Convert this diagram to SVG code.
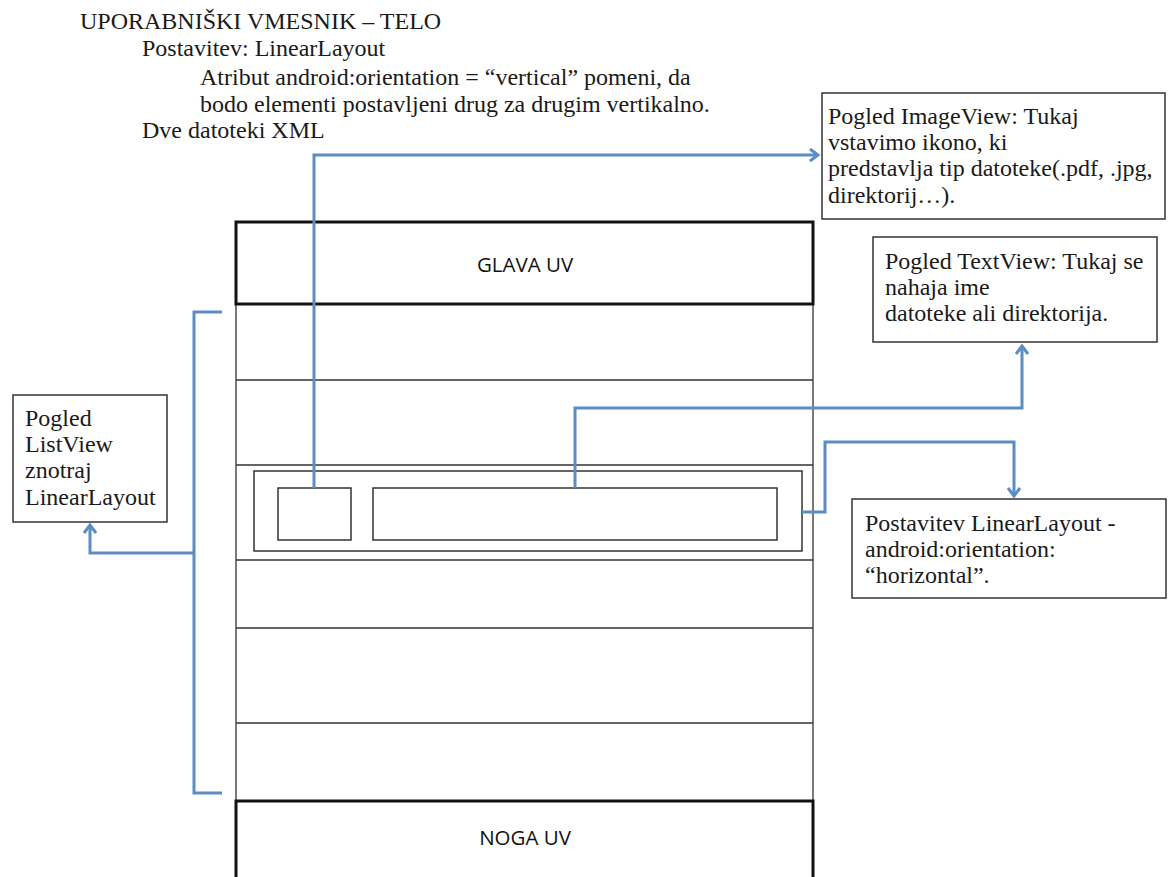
<svg xmlns="http://www.w3.org/2000/svg" width="1168" height="877" viewBox="0 0 1168 877">
<style>
.t{font-family:"Liberation Serif","Times New Roman",serif;font-size:24px;fill:#1a1a1a}
.h{font-family:"Open Sans","Liberation Sans",sans-serif;font-size:20.5px;fill:#111;text-anchor:middle}
.box{fill:#fff;stroke:#333;stroke-width:1.5}
.thick{fill:#fff;stroke:#111;stroke-width:3}
.thin{stroke:#333;stroke-width:1.3;fill:none}
.c{fill:none;stroke:#5b8cc4;stroke-width:3}
</style>
<defs>
<marker id="ar" markerUnits="userSpaceOnUse" markerWidth="16" markerHeight="16" refX="10" refY="7" orient="auto">
<path d="M2,1 L10,7 L2,13" fill="none" stroke="#5b8cc4" stroke-width="3"/>
</marker>
</defs>
<rect width="1168" height="877" fill="#fff"/>

<g id="header">
<text class="t" x="80" y="29">UPORABNIŠKI VMESNIK – TELO</text>
<text class="t" x="142" y="56">Postavitev: LinearLayout</text>
<text class="t" x="200" y="85">Atribut android:orientation = “vertical” pomeni, da</text>
<text class="t" x="200" y="112">bodo elementi postavljeni drug za drugim vertikalno.</text>
<text class="t" x="142" y="138">Dve datoteki XML</text>
</g>

<g id="list-column">
<path class="thin" d="M236,304 V801 M813,304 V801 M236,380 H813 M236,465 H813 M236,560 H813 M236,628 H813 M236,723 H813"/>
</g>
<g id="glava">
<rect class="thick" x="236" y="222" width="577" height="82"/>
<text class="h" x="525" y="272">GLAVA UV</text>
</g>
<g id="noga">
<rect class="thick" x="236" y="801" width="577" height="90"/>
<text class="h" x="525" y="845">NOGA UV</text>
</g>
<g id="row-layout">
<rect class="box" x="254" y="471" width="548" height="80"/>
</g>
<g id="row-image">
<rect class="box" x="278" y="488" width="73" height="52"/>
</g>
<g id="row-text">
<rect class="box" x="373" y="488" width="404" height="52"/>
</g>

<g id="imageview-note">
<rect class="box" x="822" y="93" width="343" height="126"/>
<text class="t" x="828" y="124">Pogled ImageView: Tukaj</text>
<text class="t" x="828" y="150">vstavimo ikono, ki</text>
<text class="t" x="828" y="176">predstavlja tip datoteke(.pdf, .jpg,</text>
<text class="t" x="828" y="203">direktorij…).</text>
</g>
<g id="textview-note">
<rect class="box" x="873" y="237" width="284" height="105"/>
<text class="t" x="885" y="269">Pogled TextView: Tukaj se</text>
<text class="t" x="885" y="295">nahaja ime</text>
<text class="t" x="885" y="321">datoteke ali direktorija.</text>
</g>
<g id="linearlayout-note">
<rect class="box" x="852" y="499" width="314" height="99"/>
<text class="t" x="865" y="531">Postavitev LinearLayout -</text>
<text class="t" x="865" y="557">android:orientation:</text>
<text class="t" x="865" y="583">“horizontal”.</text>
</g>
<g id="listview-note">
<rect class="box" x="13" y="395" width="154" height="127"/>
<text class="t" x="25" y="426">Pogled</text>
<text class="t" x="25" y="452">ListView</text>
<text class="t" x="25" y="478">znotraj</text>
<text class="t" x="25" y="505">LinearLayout</text>
</g>

<g id="connectors">
<path class="c" d="M314,488 V155 H818" marker-end="url(#ar)"/>
<path class="c" d="M575,488 V408 H1022 V346" marker-end="url(#ar)"/>
<path class="c" d="M802,512 H825 V442 H1014 V496" marker-end="url(#ar)"/>
<path class="c" d="M222,312 H194 V793 H222"/>
<path class="c" d="M194,553 H90 V525" marker-end="url(#ar)"/>
</g>
</svg>
